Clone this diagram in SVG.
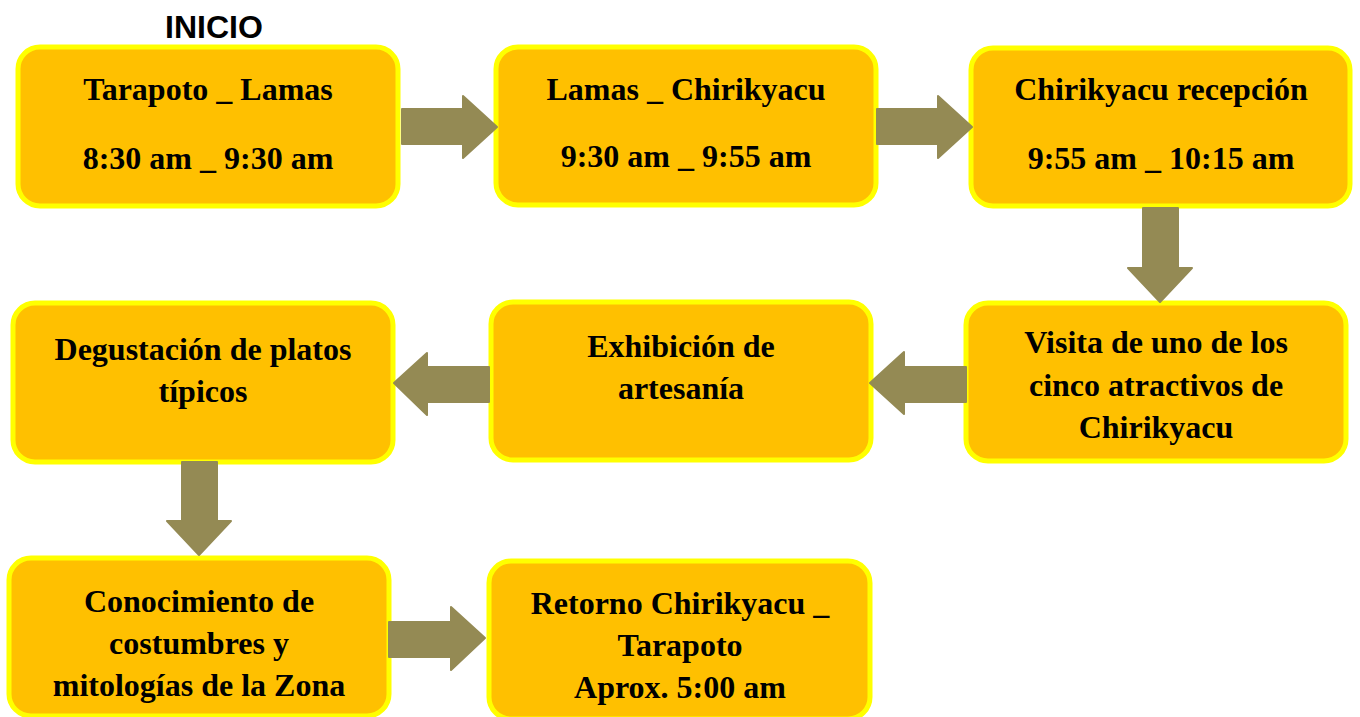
<svg xmlns="http://www.w3.org/2000/svg" width="1360" height="717" viewBox="0 0 1360 717">
<style>
.box{fill:#FFC000;stroke:#FFFF00;stroke-width:5}
.t{font-family:"Liberation Serif","Times New Roman",serif;font-weight:bold;font-size:32px;fill:#000;text-anchor:middle}
.arr{fill:#948A54;stroke:#948A54;stroke-width:2;stroke-linejoin:round}
</style>
<rect width="1360" height="717" fill="#fff"/>
<text x="214" y="38" font-family="Liberation Sans,Arial,sans-serif" font-weight="bold" font-size="32" text-anchor="middle">INICIO</text>
<g id="n1"><rect class="box" x="18" y="47" width="380" height="159" rx="22"/>
<text class="t" x="208" y="100">Tarapoto _ Lamas</text><text class="t" x="208" y="169">8:30 am _ 9:30 am</text></g>
<g id="n2"><rect class="box" x="496" y="47" width="380" height="158" rx="22"/>
<text class="t" x="686" y="100">Lamas _ Chirikyacu</text><text class="t" x="686" y="167">9:30 am _ 9:55 am</text></g>
<g id="n3"><rect class="box" x="971" y="48" width="379" height="158" rx="22"/>
<text class="t" x="1161" y="100">Chirikyacu recepción</text><text class="t" x="1161" y="169">9:55 am _ 10:15 am</text></g>
<g id="n4"><rect class="box" x="13" y="303" width="380" height="159" rx="22"/>
<text class="t" x="203" y="360">Degustación de platos</text><text class="t" x="203" y="402">típicos</text></g>
<g id="n5"><rect class="box" x="491" y="302" width="380" height="158" rx="22"/>
<text class="t" x="681" y="357">Exhibición de</text><text class="t" x="681" y="399">artesanía</text></g>
<g id="n6"><rect class="box" x="966" y="303" width="380" height="158" rx="22"/>
<text class="t" x="1156" y="353">Visita de uno de los</text><text class="t" x="1156" y="396">cinco atractivos de</text><text class="t" x="1156" y="438">Chirikyacu</text></g>
<g id="n7"><rect class="box" x="9" y="558" width="380" height="158" rx="22"/>
<text class="t" x="199" y="612">Conocimiento de</text><text class="t" x="199" y="654">costumbres y</text><text class="t" x="199" y="696">mitologías de la Zona</text></g>
<g id="n8"><rect class="box" x="489" y="561" width="381" height="158" rx="22"/>
<text class="t" x="680" y="614">Retorno Chirikyacu _</text><text class="t" x="680" y="656">Tarapoto</text><text class="t" x="680" y="698">Aprox. 5:00 am</text></g>
<g id="connectors">
<path class="arr" d="M402,109 H463 V96 L497,127 L463,158 V144 H402 Z"/>
<path class="arr" d="M877,109 H938 V96 L972,127 L938,158 V144 H877 Z"/>
<path class="arr" d="M1143,208 H1178 V268 H1192 L1160,302 L1128,268 H1143 Z"/>
<path class="arr" d="M966,367 H904 V352 L870,383 L904,414 V402 H966 Z"/>
<path class="arr" d="M489,367 H427 V353 L394,383 L427,415 V402 H489 Z"/>
<path class="arr" d="M182,462 H217 V521 H231 L199,555 L167,521 H182 Z"/>
<path class="arr" d="M389,622 H451 V607 L485,638 L451,670 V657 H389 Z"/>
</g>
</svg>
